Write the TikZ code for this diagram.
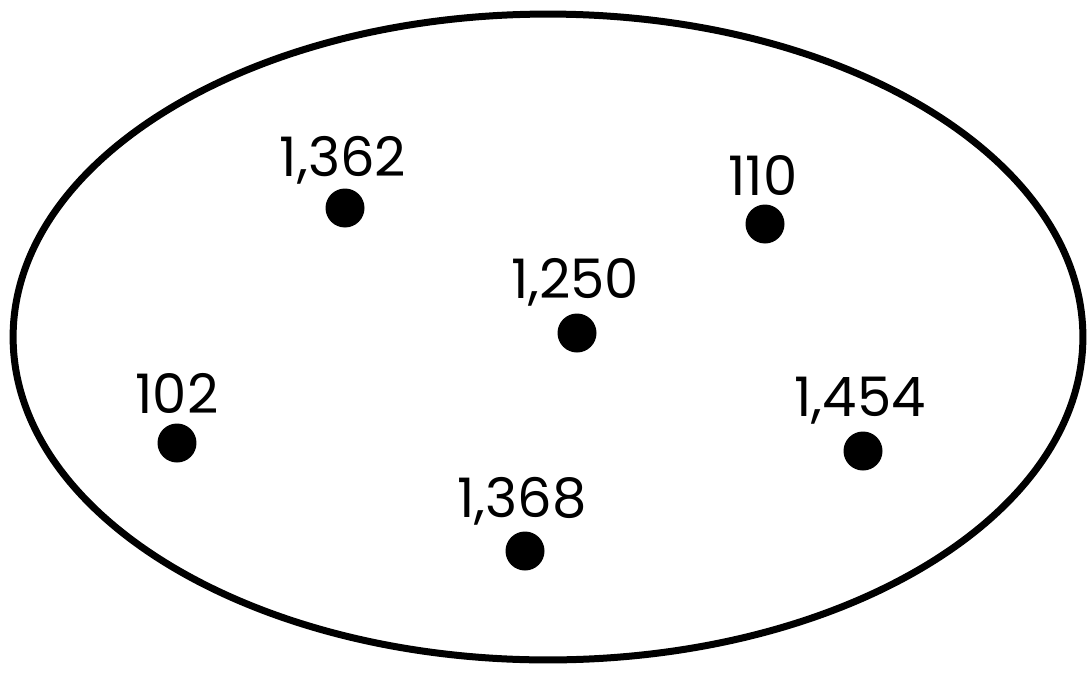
\documentclass[tikz,border=0pt]{standalone}
\usepackage{fontspec}
\setmainfont{Poppins}
\usetikzlibrary{shapes.geometric}
\begin{document}
\begin{tikzpicture}[x=0.02cm,y=-0.02cm,
  dot/.style={circle,fill=black,inner sep=0pt,minimum size=0.78cm},
  lbl/.style={font=\fontsize{31}{34}\selectfont,inner sep=0pt,anchor=center},
  rim/.style={draw=black,line width=0.14cm}]
\useasboundingbox (0,0) rectangle (1088,673);
\node[rim,ellipse,minimum width=21.4cm,minimum height=12.92cm,inner sep=0pt] (set) at (548,337) {};
\node[dot] (d1) at (345,208) {};
\node[lbl] (l1) at (343,160) {1,362};
\node[dot] (d2) at (765,224) {};
\node[lbl] (l2) at (763,176) {110};
\node[dot] (d3) at (577,333) {};
\node[lbl] (l3) at (575,282) {1,250};
\node[dot] (d4) at (177,443) {};
\node[lbl] (l4) at (177,393) {102};
\node[dot] (d5) at (863,451) {};
\node[lbl] (l5) at (860,401) {1,454};
\node[dot] (d6) at (525,551) {};
\node[lbl] (l6) at (522,501) {1,368};
\end{tikzpicture}
\end{document}
